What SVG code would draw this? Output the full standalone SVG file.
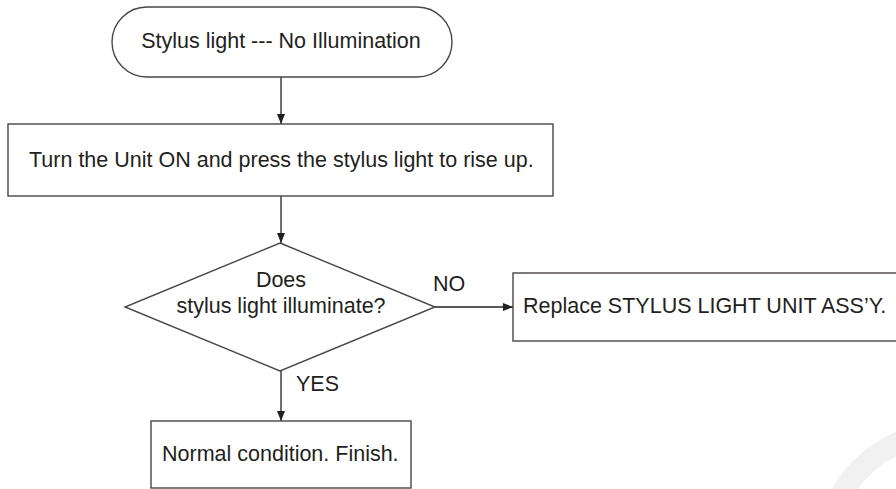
<svg xmlns="http://www.w3.org/2000/svg" width="896" height="489" viewBox="0 0 896 489">
  <defs>
    <marker id="arrow" viewBox="0 0 10 8" refX="10" refY="4" markerWidth="10" markerHeight="8" markerUnits="userSpaceOnUse" orient="auto">
      <path d="M0,0 L10,4 L0,8 Z" fill="#231f20"/>
    </marker>
  </defs>
  <style>
    .shape { fill: #ffffff; stroke: #4a4547; stroke-width: 1.4; }
    .label { font-family: "Liberation Sans", Arial, Helvetica, sans-serif; font-size: 21.5px; fill: #231f20; }
    .mid { text-anchor: middle; }
    .link { fill: none; stroke: #231f20; stroke-width: 1.3; marker-end: url(#arrow); }
  </style>
  <rect width="896" height="489" fill="#ffffff"/>

  <!-- faint mark in the lower right corner -->
  <path d="M838,500 Q860,458 905,440" fill="none" stroke="#f1f1f1" stroke-width="22"/>

  <g id="connectors">
    <line class="link" x1="281" y1="77" x2="281" y2="124"/>
    <line class="link" x1="281" y1="196" x2="281" y2="243"/>
    <line class="link" x1="435" y1="307" x2="513" y2="307"/>
    <line class="link" x1="281" y1="371" x2="281" y2="421"/>
    <text class="label" x="433" y="291">NO</text>
    <text class="label" x="296" y="391">YES</text>
  </g>

  <g id="start">
    <rect class="shape" x="112" y="7" width="340" height="70" rx="35" ry="35"/>
    <text class="label mid" x="281" y="48">Stylus light --- No Illumination</text>
  </g>

  <g id="step-power">
    <rect class="shape" x="8" y="124" width="545" height="72"/>
    <text class="label" x="29" y="167">Turn the Unit ON and press the stylus light to rise up.</text>
  </g>

  <g id="check-light">
    <polygon class="shape" points="280,243 435,307 280,371 125,307"/>
    <text class="label mid" x="281" y="287">Does</text>
    <text class="label mid" x="281" y="313">stylus light illuminate?</text>
  </g>

  <g id="replace-unit">
    <rect class="shape" x="513" y="273" width="400" height="68"/>
    <text class="label" x="523" y="313">Replace STYLUS LIGHT UNIT ASS’Y.</text>
  </g>

  <g id="finish">
    <rect class="shape" x="151" y="421" width="260" height="67"/>
    <text class="label" x="162" y="461">Normal condition. Finish.</text>
  </g>
</svg>
